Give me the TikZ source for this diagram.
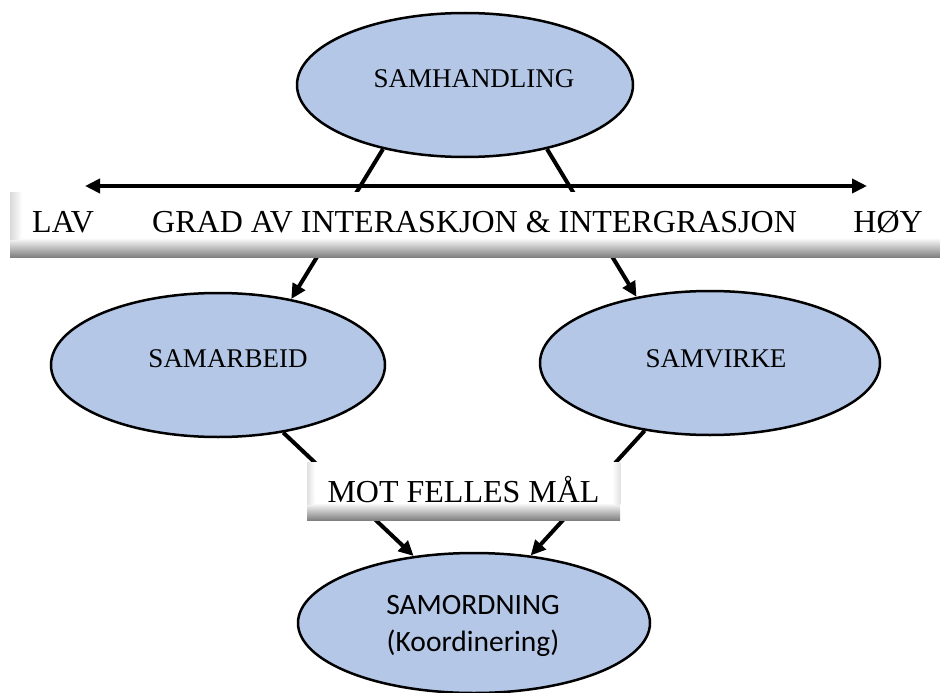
\documentclass[tikz,border=0pt]{standalone}
\usepackage{fontspec}
\setmainfont{Liberation Serif}
\newfontfamily\calibri{Carlito}
\usepackage{tikz}
\usetikzlibrary{shapes.geometric, positioning, calc, arrows.meta}

\definecolor{ellblue}{HTML}{B4C7E7}
\pgfdeclareverticalshading{bannershade}{100bp}{color(0bp)=(black!50); color(25bp)=(black!50); color(40bp)=(white); color(100bp)=(white)}

\begin{document}
\begin{tikzpicture}[x=1pt, y=-1pt,
        boble/.style={ellipse, draw=black, line width=2.5pt, fill=ellblue, inner sep=0pt},
        banner/.style={rectangle, shading=bannershade, inner sep=0pt, anchor=north west},
        pil/.style={line width=4pt, -{Triangle[length=15pt, width=14pt]}},
        tekst/.style={anchor=base, inner sep=0pt, font=\fontsize{27}{32}\selectfont},
        sans/.style={anchor=base, inner sep=0pt, font=\calibri\fontsize{29.5}{35}\selectfont},
        stor/.style={inner sep=0pt, font=\fontsize{32}{38}\selectfont}]

        \useasboundingbox (0,0) rectangle (940,693);

        % ellipses
        \node[boble, minimum width=336pt, minimum height=144pt] (ham) at (465,85) {};
        \node[boble, minimum width=334pt, minimum height=144pt] (arb) at (218,365) {};
        \node[boble, minimum width=340pt, minimum height=144pt] (vir) at (710,363) {};
        \node[boble, minimum width=352pt, minimum height=140pt] (ord) at (474,623) {};

        % connectors (partly hidden behind the banners)
        \draw[pil] (ham.218) -- (arb.42);
        \draw[pil] (ham.322) -- (vir.138);
        \draw[pil] (arb.314) -- (ord.132);
        \draw[pil] (vir.226) -- (ord.50);

        % scale banner
        \node[banner, minimum width=930pt, minimum height=65pt] (skala) at (10,192) {};
        \shade[left color=black!15, right color=white] (skala.north west) rectangle ($(skala.south west)+(12,-18)$);
        \coordinate (lav) at (85,186);
        \coordinate (hoy) at (867,186);
        \draw[pil, {Triangle[length=15pt, width=14pt]}-{Triangle[length=15pt, width=14pt]}] (lav) -- (hoy);

        \node[stor, anchor=base west] (lavtxt) at (32,232) {LAV};
        \node[stor, anchor=base west] (grad) at (152,232) {GRAD AV INTERASKJON \& INTERGRASJON};
        \node[stor, anchor=base east] (hoytxt) at (923,232) {HØY};

        % goal banner
        \node[banner, minimum width=313pt, minimum height=58pt] (mal) at (307,462) {};
        \shade[left color=black!12, right color=white] (mal.north west) rectangle ($(mal.south west)+(8,-16)$);
        \shade[left color=white, right color=black!12] ($(mal.north east)+(-8,0)$) rectangle ($(mal.south east)+(0,-16)$);
        \node[stor, anchor=base] (maltxt) at (463.5,502) {MOT FELLES MÅL};

        % ellipse texts
        \node[tekst] (hamtxt) at (474,88) {SAMHANDLING};
        \node[tekst] (arbtxt) at (228,367) {SAMARBEID};
        \node[tekst] (virtxt) at (716,367) {SAMVIRKE};
        \node[sans] (ordtxt) at (473,614) {SAMORDNING};
        \node[sans] (kootxt) at (473,651) {(Koordinering)};

    \end{tikzpicture}
\end{document}
